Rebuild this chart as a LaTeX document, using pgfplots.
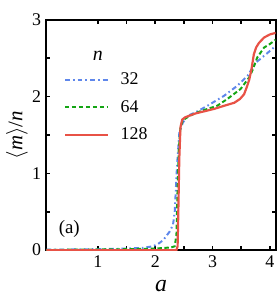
\documentclass[border=0pt]{standalone}
\usepackage{pgfplots}
\pgfplotsset{compat=1.18}
\usepackage{fontspec}
\setmainfont{Liberation Serif}
\definecolor{cblue}{RGB}{95,135,235}
\definecolor{cgreen}{RGB}{20,165,20}
\definecolor{cred}{RGB}{232,82,70}
\begin{document}
\fontsize{9}{11}\selectfont
\begin{tikzpicture}
\begin{axis}[
  scale only axis,
  width=115.5pt, height=116pt,
  xmin=0.1, xmax=4.1, ymin=0, ymax=3,
  xtick={1,2,3,4}, ytick={0,1,2,3},
  minor tick num=1,
  tick align=inside,
  major tick length=2pt, minor tick length=2pt,
  every tick/.style={line width=0.8pt, black},
  axis line style={line width=1pt},
  tick label style={font=\fontsize{9}{11}\selectfont},
  xticklabel style={inner sep=1pt, yshift=-1.5pt},
  yticklabel style={inner sep=1pt, xshift=-1.5pt},
  /pgf/number format/assume math mode=true,
  xlabel={\fontsize{12}{14}\selectfont\textit{a}},
  ylabel={\fontsize{10.5}{12}\selectfont$\langle$\textit{m}$\rangle$/\textit{n}},
  xlabel style={inner sep=1.2pt, yshift=-4pt},
  ylabel style={yshift=-2pt},
  legend style={draw=none, fill=none, at={(axis cs:0.40,2.37)}, anchor=north west,
    font=\fontsize{9}{11}\selectfont, row sep=2.6pt, inner sep=0pt},
  legend cell align=left,
  legend image code/.code={\draw[#1] (0pt,0pt) -- (21.5pt,0pt); \path (25.5pt,0pt);},
]
\addplot[cblue, line width=1pt, dash pattern=on 2.5pt off 1.5pt on 0.8pt off 1.5pt] coordinates {
(0.1,0.005) (0.5,0.008) (1.0,0.012) (1.5,0.02) (1.8,0.03) (1.96,0.05) (2.05,0.08) (2.14,0.13)
(2.25,0.24) (2.31,0.33) (2.34,0.50) (2.36,0.8) (2.38,1.10) (2.42,1.53) (2.48,1.66) (2.57,1.75)
(2.74,1.81) (2.91,1.88) (3.20,2.01) (3.43,2.14) (3.61,2.27) (3.75,2.44) (3.93,2.55) (4.1,2.66)
};
\addlegendentry{32}
\addplot[cgreen, line width=1pt, dash pattern=on 2.2pt off 1.3pt] coordinates {
(0.1,0.003) (0.5,0.005) (1.0,0.008) (1.5,0.012) (2.0,0.02) (2.28,0.035) (2.34,0.05) (2.37,0.2)
(2.39,0.8) (2.41,1.3) (2.44,1.6) (2.48,1.69) (2.6,1.75) (2.79,1.81) (3.08,1.88) (3.26,1.97)
(3.49,2.10) (3.64,2.25) (3.70,2.35) (3.78,2.51) (3.90,2.64) (3.99,2.68) (4.1,2.74)
};
\addlegendentry{64}
\addplot[cred, line width=1.1pt] coordinates {
(0.1,0.0) (1.0,0.0) (2.0,0.0) (2.37,0.0) (2.39,0.05) (2.40,0.4) (2.42,1.2) (2.44,1.6)
(2.47,1.70) (2.52,1.73) (2.7,1.78) (3.03,1.84) (3.2,1.88) (3.38,1.92) (3.48,1.97) (3.55,2.03)
(3.60,2.13) (3.64,2.22) (3.68,2.36) (3.72,2.55) (3.76,2.64) (3.81,2.70) (3.90,2.77) (4.0,2.81) (4.1,2.83)
};
\addlegendentry{128}
\node at (axis cs:1.0,2.53) {\fontsize{10}{12}\selectfont\textit{n}};
\node at (axis cs:0.5,0.27) {\fontsize{9.5}{11}\selectfont(a)};
\end{axis}
\path ([yshift=10pt]current axis.north east);
\end{tikzpicture}
\end{document}
